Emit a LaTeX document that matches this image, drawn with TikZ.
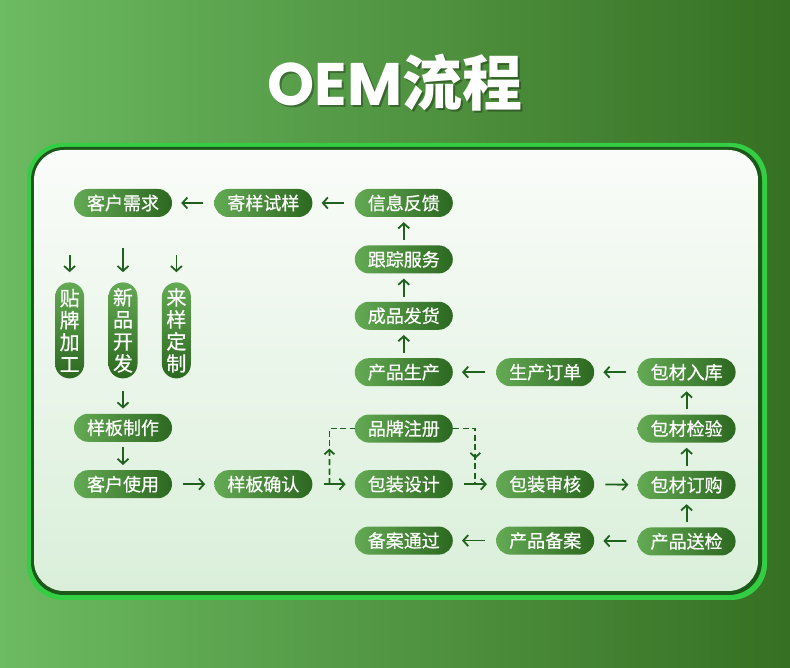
\documentclass[tikz,border=0pt]{standalone}
\usepackage{fontspec}
\setmainfont{Noto Sans CJK SC}
\newfontfamily\titlefont{Poppins}
\newfontfamily\pillfont{Noto Sans CJK SC}[FakeBold=0.6]
\usepackage{xcolor}
\usepackage{tikz}
\usetikzlibrary{arrows.meta, positioning, calc}
\definecolor{cBgL}{RGB}{108,186,98}
\definecolor{cBgR}{RGB}{54,112,34}
\definecolor{cGlow}{RGB}{52,206,68}
\definecolor{cEdge}{RGB}{28,88,26}
\definecolor{cPanelT}{RGB}{250,252,249}
\definecolor{cPanelB}{RGB}{218,239,218}
\definecolor{cPillL}{RGB}{100,170,84}
\definecolor{cPillR}{RGB}{44,104,32}
\definecolor{cArrow}{RGB}{30,98,30}
\tikzset{
	pill/.style     ={rectangle, rounded corners=14pt, minimum width=98pt, minimum height=28pt, inner sep=0pt, left color=cPillL, right color=cPillR, text=white, font=\pillfont\fontsize{18}{20}\selectfont},
	vpill/.style    ={rectangle, rounded corners=14.5pt, minimum width=29pt, minimum height=96pt, inner sep=0pt, top color=cPillL, bottom color=cPillR, text=white, align=center, font=\pillfont\fontsize{20}{22}\selectfont},
	flowarrow/.style={-{Straight Barb[length=5pt, width=11pt]}, line width=1.8pt, draw=cArrow, shorten <=11pt, shorten >=9pt},
	vflow/.style    ={flowarrow, shorten <=5pt, shorten >=5pt},
	dashflow/.style ={dash pattern=on 6pt off 3.5pt, line width=1.8pt, draw=cArrow},
}
\begin{document}
\begin{tikzpicture}
	\useasboundingbox (0,0) rectangle (790pt,668pt);
	% background and panel
	\shade[left color=cBgL, right color=cBgR] (0,0) rectangle (790pt,668pt);
	\fill[cGlow, rounded corners=36pt] (27pt,68pt) rectangle (767pt,525pt);
	\fill[cEdge, rounded corners=33pt] (31pt,73pt) rectangle (762pt,521pt);
	\shade[top color=cPanelT, bottom color=cPanelB, rounded corners=30pt] (34pt,77pt) rectangle (758pt,518pt);
	% title
	\node[text=black, opacity=0.3, font=\fontsize{60}{60}\selectfont] (titleshadow) at (397pt,583pt) {{\titlefont\bfseries OEM}{\bfseries 流程}};
	\node[text=white, font=\fontsize{60}{60}\selectfont] (title) at (395pt,585pt) {{\titlefont\bfseries OEM}{\bfseries 流程}};
	% top row and middle column
	\node[pill] (req) at (123pt,465pt) {客户需求};
	\node[pill, right=42pt of req] (mail) {寄样试样};
	\node[pill, right=42pt of mail] (info) {信息反馈};
	\node[pill, below=28pt of info] (track) {跟踪服务};
	\node[pill, below=28pt of track] (ship) {成品发货};
	\node[pill, below=28pt of ship] (prod) {产品生产};
	\node[pill, right=43pt of prod] (order) {生产订单};
	\node[pill, right=43pt of order] (pin) {包材入库};
	\node[pill, below=28pt of pin] (pchk) {包材检验};
	\node[pill, below=28pt of pchk] (pbuy) {包材订购};
	\node[pill, below=28pt of pbuy] (ptest) {产品送检};
	% left side
	\node[vpill, below=65pt of req] (newp) {新\\品\\开\\发};
	\node[vpill, left=24pt of newp] (oem) {贴\\牌\\加\\工};
	\node[vpill, right=24pt of newp] (odm) {来\\样\\定\\制};
	\node[pill, below=35pt of newp] (smpl) {样板制作};
	\node[pill, below=28pt of smpl] (use) {客户使用};
	\node[pill, right=42pt of use] (conf) {样板确认};
	\node[pill, right=42pt of conf] (pack) {包装设计};
	\node[pill, below=28pt of prod] (brand) {品牌注册};
	\node[pill, right=43pt of pack] (prev) {包装审核};
	\node[pill, below=28pt of pack] (pass) {备案通过};
	\node[pill, right=43pt of pass] (rec) {产品备案};
	\coordinate[above=27pt of oem] (oemin);
	\coordinate[above=34pt of newp] (newpin);
	\coordinate[above=27pt of odm] (odmin);
	\coordinate (dl) at ($(conf.east)!0.4!(pack.west)$);
	\coordinate (dr) at ($(pack.east)!0.52!(prev.west)$);
	% connectors
	\draw[flowarrow] (mail) -- (req); \draw[flowarrow] (info) -- (mail);
	\draw[vflow] (track) -- (info); \draw[vflow] (ship) -- (track); \draw[vflow] (prod) -- (ship);
	\draw[flowarrow] (order) -- (prod); \draw[flowarrow] (pin) -- (order);
	\draw[vflow] (pchk) -- (pin); \draw[vflow] (pbuy) -- (pchk); \draw[vflow] (ptest) -- (pbuy);
	\draw[flowarrow] (ptest) -- (rec); \draw[flowarrow] (rec) -- (pass);
	\draw[flowarrow, shorten <=0pt, shorten >=10pt] (oemin) -- (oem);
	\draw[flowarrow, shorten <=0pt, shorten >=10pt] (newpin) -- (newp);
	\draw[flowarrow, shorten <=0pt, shorten >=10pt] (odmin) -- (odm);
	\draw[flowarrow, shorten <=12pt, shorten >=5pt] (newp) -- (smpl);
	\draw[vflow] (smpl) -- (use);
	\draw[flowarrow] (use) -- (conf); \draw[flowarrow] (conf) -- (pack);
	\draw[flowarrow] (pack) -- (prev); \draw[flowarrow] (prev) -- (pbuy);
	\draw[dashflow] (dl) |- (brand.west);
	\draw[dashflow, -{Straight Barb[length=4.5pt, width=10pt]}] (dl) -- ($(dl)!0.64!(dl |- brand)$);
	\draw[dashflow] (brand.east) -| (dr);
	\draw[dashflow, -{Straight Barb[length=4.5pt, width=10pt]}] (brand.east) -| ($(dr |- brand)!0.54!(dr)$);
\end{tikzpicture}
\end{document}
